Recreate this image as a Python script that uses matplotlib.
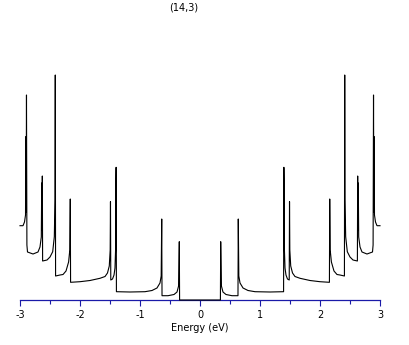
import matplotlib
matplotlib.use('Agg')
import matplotlib.pyplot as plt

# density of states for the (14,3) tube
# energy in eV, dos in arbitrary units (0 = axis)
energy_neg = [-3.0, -2.95, -2.925, -2.908, -2.903, -2.897, -2.892, -2.885, -2.875,
              -2.783, -2.70, -2.667, -2.645, -2.638, -2.633, -2.628, -2.623,
              -2.55, -2.50, -2.455, -2.428, -2.417, -2.412, -2.407,
              -2.333, -2.283, -2.233, -2.19, -2.17, -2.162, -2.157,
              -2.0, -1.833, -1.667, -1.583, -1.542, -1.512, -1.497, -1.492, -1.487,
              -1.458, -1.433, -1.417, -1.407, -1.403, -1.398, -1.393,
              -1.167, -0.917, -0.80, -0.717, -0.667, -0.647, -0.638, -0.633,
              -0.533, -0.433, -0.383, -0.357, -0.345, -0.34, 0.0]
dos_neg = [74.3, 74.3, 78, 85, 163.3, 88, 205, 55, 48,
           46, 48, 53, 63, 117, 70, 124, 39,
           40, 43, 48.3, 63.3, 100, 225, 24,
           25, 25.5, 29, 38, 50, 101, 17.7,
           18.3, 19.5, 21.7, 23.5, 27, 34, 50, 98.3, 20,
           21, 25, 32, 50, 110, 132.7, 8.3,
           8, 8.3, 9.5, 12, 17, 24, 81, 4.3,
           4.3, 5.5, 8, 14, 58.3, 0, 0]

energy_pos = [0.0, 0.34, 0.345, 0.357, 0.383, 0.433, 0.533,
              0.633, 0.638, 0.647, 0.667, 0.717, 0.80, 0.917, 1.167,
              1.393, 1.398, 1.403, 1.407, 1.417, 1.433, 1.458,
              1.487, 1.492, 1.497, 1.512, 1.542, 1.583, 1.667, 1.833, 2.0,
              2.157, 2.162, 2.17, 2.19, 2.233, 2.283, 2.333,
              2.407, 2.412, 2.417, 2.428, 2.455, 2.50, 2.55,
              2.623, 2.628, 2.633, 2.638, 2.645, 2.667, 2.70, 2.783,
              2.875, 2.885, 2.892, 2.897, 2.903, 2.908, 2.925, 2.95, 3.0]
dos_pos = [0, 0, 58.3, 14, 8, 5.5, 4.3,
           4.3, 81, 24, 17, 12, 9.5, 8.3, 8,
           8.3, 132.7, 110, 50, 32, 25, 21,
           20, 98.3, 50, 34, 27, 23.5, 21.7, 19.5, 18.3,
           17.7, 101, 50, 38, 29, 25.5, 25,
           24, 225, 100, 63.3, 48.3, 43, 40,
           39, 124, 70, 117, 63, 53, 48, 46,
           48, 55, 205, 88, 163.3, 85, 78, 74.3, 74.3]

xticks = [-3, -2, -1, 0, 1, 2, 3]
minor_ticks = [-2.5, -1.5, -0.5, 0.5, 1.5, 2.5]

plt.rcParams['axes.unicode_minus'] = False
plt.rcParams['font.size'] = 7

fig = plt.figure(figsize=(4.09, 3.45), dpi=100)
ax = fig.add_axes([20/409, 45/345, 360/409, 255/345])

ax.plot(energy_neg + energy_pos, dos_neg + dos_pos, color='black', lw=0.8,
        zorder=3, clip_on=False)

ax.set_xlim(-3, 3)
ax.set_ylim(0, 255)

blue = '#1a1aa8'
for s in ['top', 'left', 'right']:
    ax.spines[s].set_visible(False)
ax.spines['bottom'].set_color(blue)
ax.spines['bottom'].set_linewidth(0.9)
ax.set_yticks([])
ax.set_xticks(xticks)
ax.set_xticklabels([str(t) for t in xticks])
ax.set_xticks(minor_ticks, minor=True)
ax.tick_params(axis='x', which='major', length=4.5, width=0.8, color=blue, pad=3)
ax.tick_params(axis='x', which='minor', length=3, width=0.8, color=blue)
ax.set_xlabel('Energy (eV)', labelpad=2)

fig.text(183.5/409, 1 - 8/345, '(14,3)', ha='center', va='center', fontsize=7)

fig.savefig('out.png', dpi=100)
